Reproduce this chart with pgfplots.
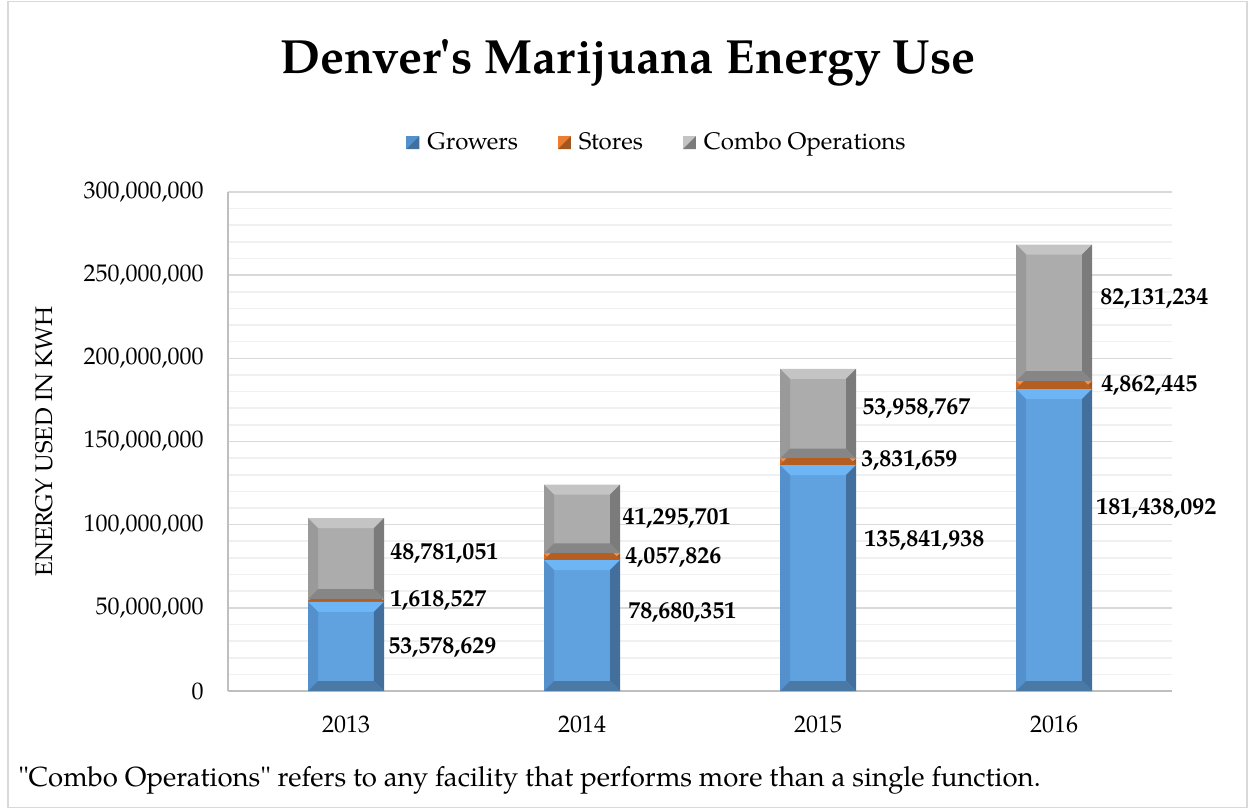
\documentclass[border=0pt]{standalone}
\usepackage{pgfplots}
\pgfplotsset{compat=1.18}
\usepackage{pgfplotstable}
\usepackage{fontspec}
\setmainfont{TeX Gyre Pagella}[Ligatures=TeXOff]

% bar faces and bevels
\definecolor{gFace}{HTML}{5FA2DF}
\definecolor{gTop}{HTML}{6DB5F5}
\definecolor{gLeft}{HTML}{5390CC}
\definecolor{gRight}{HTML}{426F9C}
\definecolor{gBot}{HTML}{4A79A6}
\definecolor{sFace}{HTML}{ED7D31}
\definecolor{sTop}{HTML}{F49049}
\definecolor{sLeft}{HTML}{D06A25}
\definecolor{sRight}{HTML}{A4561F}
\definecolor{sBot}{HTML}{B45E22}
\definecolor{cFace}{HTML}{ACACAC}
\definecolor{cTop}{HTML}{C4C4C4}
\definecolor{cLeft}{HTML}{9A9A9A}
\definecolor{cRight}{HTML}{7B7B7B}
\definecolor{cBot}{HTML}{868686}
\definecolor{gridmaj}{HTML}{D9D9D9}
\definecolor{gridmin}{HTML}{F0F0F0}
\definecolor{axisgray}{HTML}{BFBFBF}

\def\bv{5pt}
\def\NW{\pgfpointanchor{path picture bounding box}{north west}}
\def\NE{\pgfpointanchor{path picture bounding box}{north east}}
\def\SW{\pgfpointanchor{path picture bounding box}{south west}}
\def\SE{\pgfpointanchor{path picture bounding box}{south east}}
\newcommand\facet[5]{% four corners, colour
  \pgfpathmoveto{#1}\pgfpathlineto{#2}\pgfpathlineto{#3}\pgfpathlineto{#4}\pgfpathclose
  \pgfsetfillcolor{#5}\pgfusepath{fill}}
\tikzset{
  bevel/.style n args={5}{fill=#1, draw=none, path picture={%
    \facet{\NW}{\NE}{\pgfpointadd{\NE}{\pgfpoint{-\bv}{-\bv}}}{\pgfpointadd{\NW}{\pgfpoint{\bv}{-\bv}}}{#2}%
    \facet{\NW}{\pgfpointadd{\NW}{\pgfpoint{\bv}{-\bv}}}{\pgfpointadd{\SW}{\pgfpoint{\bv}{\bv}}}{\SW}{#3}%
    \facet{\NE}{\pgfpointadd{\NE}{\pgfpoint{-\bv}{-\bv}}}{\pgfpointadd{\SE}{\pgfpoint{-\bv}{\bv}}}{\SE}{#4}%
    \facet{\SW}{\pgfpointadd{\SW}{\pgfpoint{\bv}{\bv}}}{\pgfpointadd{\SE}{\pgfpoint{-\bv}{\bv}}}{\SE}{#5}%
  }},
  lab/.style={font=\bfseries, anchor=west, inner sep=0pt}
}
\pgfplotsset{
  frame/.style={at={(114pt,59pt)}, anchor=south west, scale only axis,
    width=472pt, height=249.5pt, xmin=-0.5, xmax=3.5, ymin=0, ymax=300000000},
  bars/.style={frame, hide axis, ybar stacked, bar width=0.322},
  legsq/.style 2 args={/pgfplots/legend image code/.code={%
    \pgfpathrectangle{\pgfpoint{0pt}{-3.25pt}}{\pgfpoint{6.5pt}{6.5pt}}%
    \pgfsetfillcolor{#1}\pgfusepath{fill}%
    \facet{\pgfpoint{6.5pt}{3.25pt}}{\pgfpoint{6.5pt}{-3.25pt}}{\pgfpoint{0pt}{-3.25pt}}{\pgfpoint{0pt}{-3.25pt}}{#2}}},
}

% one small table per year, so every bar gets its own bevel
\pgfplotstableread{
x grow store combo
0 53578629 1618527 48781051
}\yA
\pgfplotstableread{
x grow store combo
1 78680351 4057826 41295701
}\yB
\pgfplotstableread{
x grow store combo
2 135841938 3831659 53958767
}\yC
\pgfplotstableread{
x grow store combo
3 181438092 4862445 82131234
}\yD

\newcommand\yearbars[1]{%
\begin{axis}[bars]
\addplot[bevel={gFace}{gTop}{gLeft}{gRight}{gBot}] table[x=x, y=grow] {#1};
\addplot[bevel={sFace}{sTop}{sLeft}{sRight}{sBot}] table[x=x, y=store] {#1};
\addplot[bevel={cFace}{cTop}{cLeft}{cRight}{cBot}] table[x=x, y=combo] {#1};
\end{axis}}

\begin{document}
\fontsize{12}{14.4}\selectfont
\begin{tikzpicture}
\useasboundingbox (0,0) rectangle (624pt,404.5pt);
\draw[gray!30, line width=0.7pt] (4pt,0.8pt) rectangle (623.4pt,403.7pt);
\node[font=\fontsize{24}{28}\selectfont\bfseries] at (314pt,373pt) {Denver's Marijuana Energy Use};
\node[anchor=west, inner sep=0pt, font=\fontsize{13.8}{16}\selectfont] at (9pt,14.5pt) {"Combo Operations" refers to any facility that performs more than a single function.};
\begin{axis}[
  frame,
  xtick={0,1,2,3}, xticklabels={2013,2014,2015,2016},
  ytick={0,50000000,100000000,150000000,200000000,250000000,300000000},
  yticklabels={{0},{50,000,000},{100,000,000},{150,000,000},{200,000,000},{250,000,000},{300,000,000}},
  scaled y ticks=false,
  minor y tick num=4,
  ymajorgrids, yminorgrids,
  major grid style={draw=gridmaj, line width=0.8pt},
  minor grid style={draw=gridmin, line width=0.8pt},
  axis x line*=bottom, axis y line*=left,
  x axis line style={draw=axisgray, line width=0.9pt, -},
  y axis line style={draw=axisgray, line width=1.2pt, -},
  major tick style={draw=none}, minor tick style={draw=none},
  yticklabel style={xshift=-8pt},
  xticklabel style={yshift=-8pt},
  ylabel={ENERGY USED IN KWH},
  ylabel style={at={(axis description cs:-0.195,0.5)}, anchor=center},
  legend style={at={(0.4555,1.099)}, anchor=center, legend columns=-1, draw=none,
    /tikz/every even column/.append style={column sep=18pt},
    /tikz/every odd column/.append style={column sep=2pt}},
  clip=false,
]
\addlegendimage{legsq={gLeft}{gRight}}
\addlegendimage{legsq={sFace}{sRight}}
\addlegendimage{legsq={cTop}{cRight}}
\legend{Growers, Stores, Combo Operations}

\node[lab] at (axis cs:0.178,25900000) {53,578,629};
\node[lab] at (axis cs:0.186,54700000) {1,618,527};
\node[lab] at (axis cs:0.186,83000000) {48,781,051};
\node[lab] at (axis cs:1.195,47500000) {78,680,351};
\node[lab] at (axis cs:1.182,80600000) {4,057,826};
\node[lab] at (axis cs:1.170,104000000) {41,295,701};
\node[lab] at (axis cs:2.195,90800000) {135,841,938};
\node[lab] at (axis cs:2.182,138900000) {3,831,659};
\node[lab] at (axis cs:2.186,169600000) {53,958,767};
\node[lab] at (axis cs:3.178,110000000) {181,438,092};
\node[lab] at (axis cs:3.199,184000000) {4,862,445};
\node[lab] at (axis cs:3.195,236300000) {82,131,234};
\end{axis}
\yearbars{\yA}
\yearbars{\yB}
\yearbars{\yC}
\yearbars{\yD}
\end{tikzpicture}
\end{document}
